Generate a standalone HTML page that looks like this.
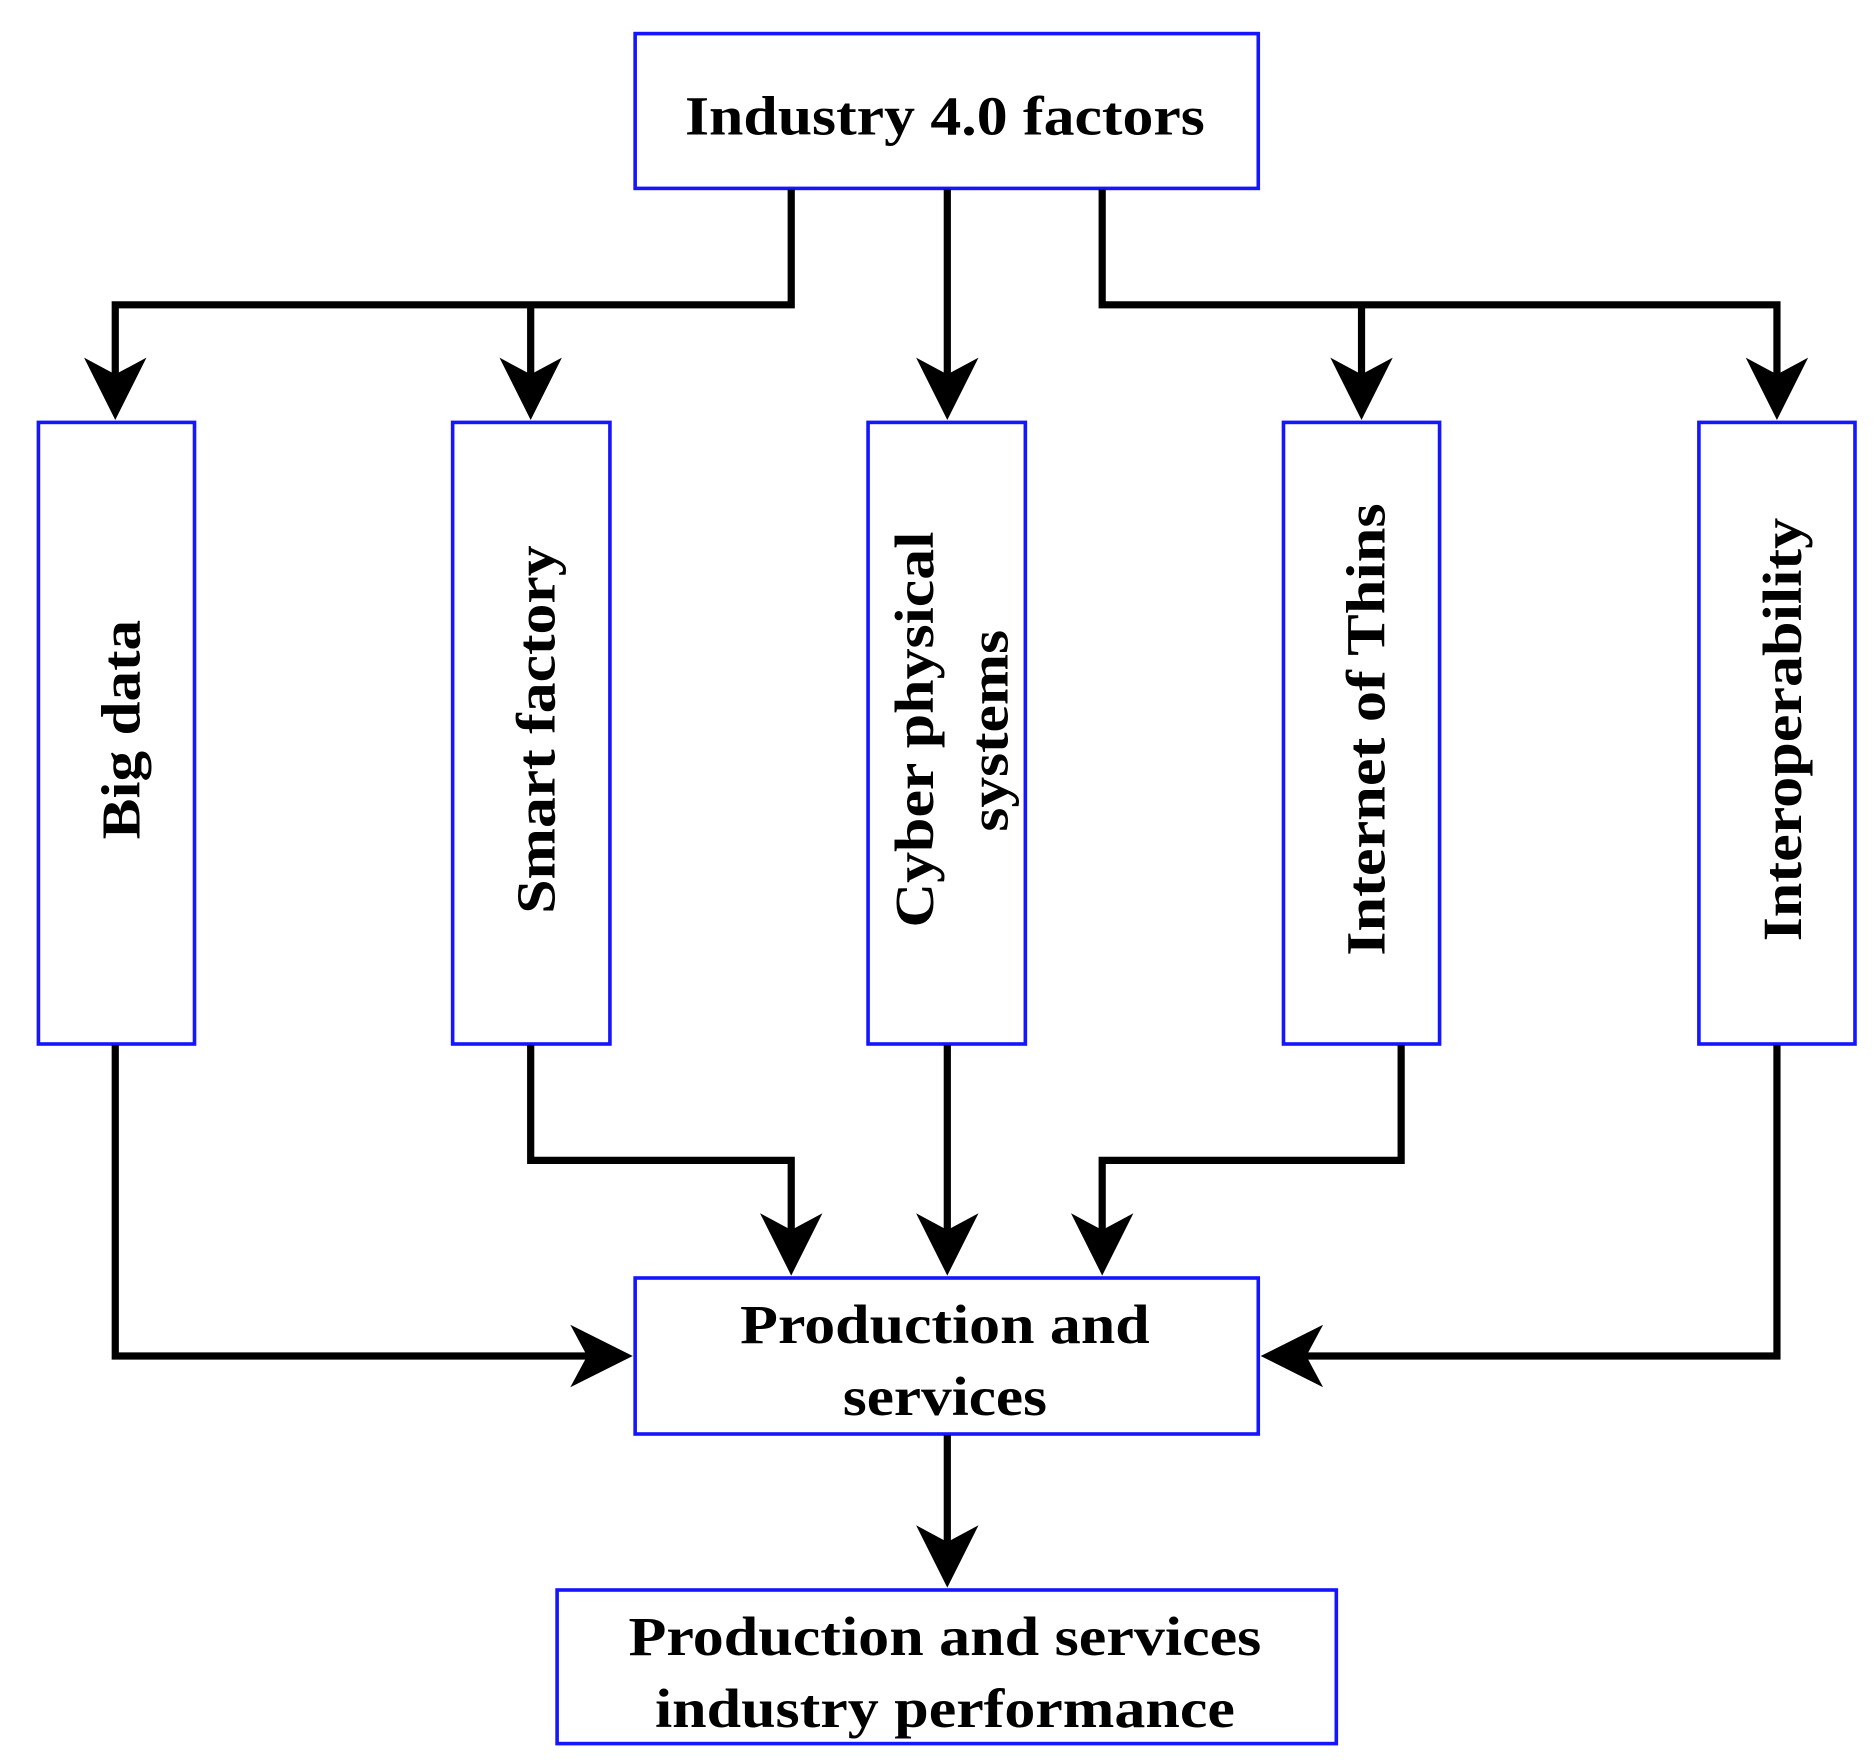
<!DOCTYPE html>
<html><head><meta charset="utf-8"><style>
html,body{margin:0;padding:0;background:#fff;}
svg{display:block;}
text{font-family:"Liberation Serif",serif;font-weight:bold;fill:#000;}
</style></head><body>
<svg width="1873" height="1764" viewBox="0 0 1560 1470" preserveAspectRatio="none" xmlns="http://www.w3.org/2000/svg">
<defs>
<path id="ad" d="M0,0 L-26,-52 L0,-38 L26,-52 Z" fill="#000"/>
</defs>
<g fill="#fff" stroke="#1515ff" stroke-width="3">
<rect x="529" y="28" width="519" height="129"/>
<rect x="32" y="352" width="130" height="518"/>
<rect x="377" y="352" width="131" height="518"/>
<rect x="723" y="352" width="131" height="518"/>
<rect x="1069" y="352" width="130" height="518"/>
<rect x="1415" y="352" width="130" height="518"/>
<rect x="529" y="1065" width="519" height="130"/>
<rect x="464" y="1325" width="649" height="128"/>
</g>
<g fill="none" stroke="#000" stroke-width="6" stroke-linejoin="miter">
<polyline points="659,158 659,254 96,254 96,320"/>
<line x1="442" y1="254" x2="442" y2="320"/>
<line x1="789" y1="158" x2="789" y2="320"/>
<polyline points="918,158 918,254 1480,254 1480,320"/>
<line x1="1134" y1="254" x2="1134" y2="320"/>
<polyline points="96,871 96,1130 500,1130"/>
<polyline points="442,871 442,967 659,967 659,1035"/>
<line x1="789" y1="871" x2="789" y2="1035"/>
<polyline points="1167,871 1167,967 918,967 918,1035"/>
<polyline points="1480,871 1480,1130 1077,1130"/>
<line x1="789" y1="1196" x2="789" y2="1295"/>
</g>
<use href="#ad" transform="translate(96,350)"/>
<use href="#ad" transform="translate(442,350)"/>
<use href="#ad" transform="translate(789,350)"/>
<use href="#ad" transform="translate(1134,350)"/>
<use href="#ad" transform="translate(1480,350)"/>
<use href="#ad" transform="translate(659,1063)"/>
<use href="#ad" transform="translate(789,1063)"/>
<use href="#ad" transform="translate(918,1063)"/>
<use href="#ad" transform="translate(789,1323)"/>
<use href="#ad" transform="translate(527,1130) rotate(-90)"/>
<use href="#ad" transform="translate(1050,1130) rotate(90)"/>
<g font-size="46" text-anchor="middle">
<text x="787" y="112" textLength="433" lengthAdjust="spacingAndGlyphs">Industry 4.0 factors</text>
<text x="787" y="1119" textLength="341" lengthAdjust="spacingAndGlyphs">Production and</text>
<text x="787" y="1179" textLength="170" lengthAdjust="spacingAndGlyphs">services</text>
<text x="787" y="1379" textLength="527" lengthAdjust="spacingAndGlyphs">Production and services</text>
<text x="787" y="1439" textLength="483" lengthAdjust="spacingAndGlyphs">industry performance</text>
<text transform="translate(116,608) rotate(-90)" textLength="183" lengthAdjust="spacingAndGlyphs">Big data</text>
<text transform="translate(462,608) rotate(-90)" textLength="307" lengthAdjust="spacingAndGlyphs">Smart factory</text>
<text transform="translate(777,608) rotate(-90)" textLength="330" lengthAdjust="spacingAndGlyphs">Cyber physical</text>
<text transform="translate(839,609) rotate(-90)" textLength="168" lengthAdjust="spacingAndGlyphs">systems</text>
<text transform="translate(1153,608) rotate(-90)" textLength="377" lengthAdjust="spacingAndGlyphs">Internet of Thins</text>
<text transform="translate(1500,608) rotate(-90)" textLength="353" lengthAdjust="spacingAndGlyphs">Interoperability</text>
</g>
</svg>
</body></html>
